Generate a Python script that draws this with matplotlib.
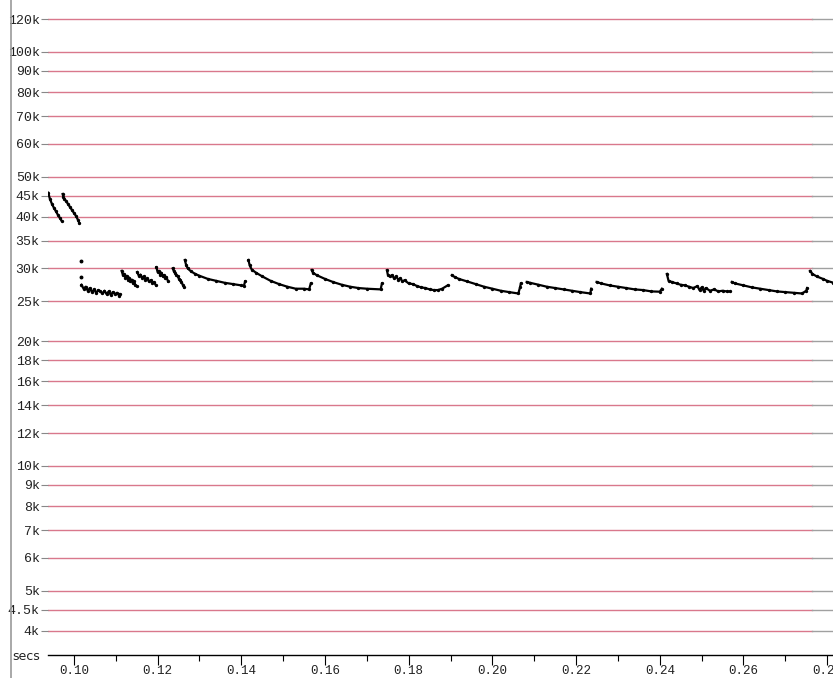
import numpy as np
import matplotlib.pyplot as plt
from matplotlib.ticker import FixedLocator, NullLocator, FuncFormatter
from matplotlib.lines import Line2D

# frequency track, one list of (secs, Hz) per segment
seg_a = [(0.09386, 45700), (0.09426, 44150), (0.09474, 42950), (0.09522, 42000),
         (0.09570, 41200), (0.09617, 40400), (0.09665, 39700), (0.09706, 39070)]
seg_b = [(0.09730, 45400), (0.09749, 44600), (0.09773, 44150), (0.09809, 43660),
         (0.09857, 42950), (0.09904, 42230), (0.09952, 41530), (0.10000, 40840),
         (0.10048, 40170), (0.10096, 39290), (0.10127, 38640)]
lone_dots = [(0.10160, 31300), (0.10170, 28600)]
seg_c1 = [(0.1018, 27400), (0.1023, 26800), (0.1028, 27100), (0.1033, 26500),
          (0.1038, 26900), (0.1043, 26300), (0.1048, 26700), (0.1053, 26200),
          (0.1058, 26600), (0.1063, 26400), (0.1068, 26100), (0.1073, 26500),
          (0.1078, 26000), (0.1083, 26400), (0.1088, 25900), (0.1093, 26300),
          (0.1098, 26000), (0.1103, 26200), (0.1108, 25800), (0.1110, 26000)]
seg_c2 = [(0.1114, 29600), (0.1117, 28900), (0.1120, 29100), (0.1123, 28500),
          (0.1126, 28800), (0.1129, 28200), (0.1132, 28500), (0.1135, 27900),
          (0.1138, 28200), (0.1141, 27600), (0.1144, 27900), (0.1147, 27300),
          (0.1150, 27200)]
seg_c3 = [(0.1151, 29400), (0.1155, 28800), (0.1159, 29000), (0.1163, 28500),
          (0.1167, 28700), (0.1171, 28200), (0.1175, 28400), (0.1179, 27900),
          (0.1183, 28100), (0.1187, 27700), (0.1191, 27800), (0.1196, 27300)]
seg_c4 = [(0.1197, 30200), (0.1200, 29400), (0.1203, 29600), (0.1206, 29000),
          (0.1209, 29300), (0.1212, 28700), (0.1215, 28900), (0.1218, 28400),
          (0.1221, 28600), (0.1225, 27900)]
seg_c5 = [(0.1236, 30000), (0.1239, 29500), (0.1242, 29200), (0.1245, 28900),
          (0.1248, 28700), (0.1251, 28300), (0.1254, 28100), (0.1257, 27800),
          (0.1260, 27400), (0.1263, 27000)]
seg_6 = [(0.1265, 31450), (0.1268, 30600), (0.1272, 30000), (0.1280, 29500),
         (0.1290, 29100), (0.1300, 28800), (0.1320, 28300), (0.1340, 28000),
         (0.1360, 27700), (0.1380, 27500), (0.1400, 27300), (0.1406, 27200),
         (0.1409, 27900)]
seg_7 = [(0.1417, 31450), (0.1420, 30500), (0.1425, 29800), (0.1435, 29300),
         (0.1450, 28700), (0.1470, 28000), (0.1490, 27500), (0.1510, 27100),
         (0.1530, 26800), (0.1550, 26800), (0.1562, 26700), (0.1566, 27600)]
seg_8 = [(0.1568, 29740), (0.1571, 29300), (0.1580, 28900), (0.1600, 28300),
         (0.1620, 27800), (0.1640, 27400), (0.1660, 27100), (0.1680, 26900),
         (0.1700, 26800), (0.1733, 26700), (0.1736, 27600)]
seg_9 = [(0.1748, 29700), (0.1750, 29000), (0.1755, 28700), (0.1760, 28900),
         (0.1765, 28400), (0.1770, 28700), (0.1775, 28200), (0.1780, 28400),
         (0.1785, 27900), (0.1790, 28100), (0.1800, 27600), (0.1810, 27500),
         (0.1820, 27200), (0.1830, 27000), (0.1840, 26900), (0.1850, 26700),
         (0.1860, 26600), (0.1870, 26600), (0.1880, 26800), (0.1893, 27300)]
seg_10 = [(0.1903, 28900), (0.1910, 28600), (0.1920, 28300), (0.1940, 27900),
          (0.1960, 27500), (0.1980, 27100), (0.2000, 26800), (0.2020, 26500),
          (0.2040, 26300), (0.2062, 26100), (0.2066, 27000), (0.2068, 27600)]
seg_11 = [(0.2082, 27830), (0.2090, 27700), (0.2110, 27400), (0.2130, 27100),
          (0.2150, 26900), (0.2170, 26700), (0.2190, 26500), (0.2210, 26300),
          (0.2234, 26100), (0.2236, 26800)]
seg_12 = [(0.2249, 27830), (0.2260, 27600), (0.2280, 27300), (0.2300, 27100),
          (0.2320, 26900), (0.2340, 26700), (0.2360, 26600), (0.2380, 26400),
          (0.2400, 26360), (0.2405, 26800)]
seg_13 = [(0.2417, 29100), (0.2421, 28000), (0.2430, 27800), (0.2440, 27600),
          (0.2450, 27400), (0.2460, 27300), (0.2470, 27100), (0.2480, 26900),
          (0.2490, 27200), (0.2495, 26600), (0.2500, 27000), (0.2505, 26500),
          (0.2510, 26900), (0.2520, 26500), (0.2530, 26700), (0.2540, 26400),
          (0.2550, 26500), (0.2560, 26400), (0.2568, 26400)]
seg_14 = [(0.2572, 27830), (0.2580, 27600), (0.2600, 27300), (0.2620, 27000),
          (0.2640, 26800), (0.2660, 26600), (0.2680, 26400), (0.2700, 26300),
          (0.2720, 26200), (0.2740, 26100), (0.2750, 26500), (0.2752, 26900)]
seg_15 = [(0.2759, 29600), (0.2765, 29100), (0.2775, 28700), (0.2790, 28300),
          (0.2800, 28000), (0.2815, 27700)]

segments = [seg_a, seg_b, seg_c1, seg_c2, seg_c3, seg_c4, seg_c5, seg_6, seg_7,
            seg_8, seg_9, seg_10, seg_11, seg_12, seg_13, seg_14, seg_15]

y_ticks = [4000, 4500, 5000, 6000, 7000, 8000, 9000, 10000, 12000, 14000, 16000,
           18000, 20000, 25000, 30000, 35000, 40000, 45000, 50000, 60000, 70000,
           80000, 90000, 100000, 120000]
y_labels = ['4k', '4.5k', '5k', '6k', '7k', '8k', '9k', '10k', '12k', '14k', '16k',
            '18k', '20k', '25k', '30k', '35k', '40k', '45k', '50k', '60k', '70k',
            '80k', '90k', '100k', '120k']
x_major = [0.10, 0.12, 0.14, 0.16, 0.18, 0.20, 0.22, 0.24, 0.26, 0.28]
x_minor = [0.11, 0.13, 0.15, 0.17, 0.19, 0.21, 0.23, 0.25, 0.27]

W, H = 833, 678
fig = plt.figure(figsize=(W / 100, H / 100), dpi=100)
ax = fig.add_axes([48 / W, 23 / H, 785 / W, 655 / H])

ax.set_yscale('log')
ax.set_ylim(3495, 133500)
ax.set_xlim(0.0938, 0.2814)

# red grid lines, going grey near the right edge
for yv in y_ticks:
    ax.axhline(yv, xmin=0, xmax=0.973, color='#d9788c', lw=1.0, zorder=1)
    ax.axhline(yv, xmin=0.973, xmax=1, color='#a0a0a0', lw=1.0, zorder=1)

for seg in segments:
    t = [p[0] for p in seg]
    f = [p[1] for p in seg]
    ax.plot(t, f, color='black', lw=1.6, marker='o', ms=1.4, zorder=3)
ax.plot([p[0] for p in lone_dots], [p[1] for p in lone_dots], 'o',
        color='black', ms=1.8, zorder=3)

ax.yaxis.set_major_locator(FixedLocator(y_ticks))
ax.yaxis.set_minor_locator(NullLocator())
ax.set_yticklabels(y_labels)
ax.xaxis.set_major_locator(FixedLocator(x_major))
ax.xaxis.set_minor_locator(FixedLocator(x_minor))
ax.xaxis.set_major_formatter(FuncFormatter(lambda v, p: f'{v:.2f}'))

mono = 'Liberation Mono'
ax.tick_params(axis='y', which='major', length=5, width=0.8, color='#888888',
               pad=1, labelsize=9.5, labelcolor='#222222')
ax.tick_params(axis='x', which='major', length=7, width=0.8, color='black',
               pad=0, labelsize=9, labelcolor='#222222')
ax.tick_params(axis='x', which='minor', length=4, width=0.8, color='black')
for lab in ax.get_xticklabels() + ax.get_yticklabels():
    lab.set_family(mono)

for side in ['top', 'right', 'left']:
    ax.spines[side].set_visible(False)
ax.spines['bottom'].set_color('black')
ax.spines['bottom'].set_linewidth(1.0)

# left border of the window and the 'secs' unit label
fig.add_artist(Line2D([11 / W, 11 / W], [0, 1], color='#999999', lw=1.2))
fig.text(12 / W, 1 - 656 / H, 'secs', fontsize=9, va='center', ha='left',
         color='#222222', family='DejaVu Sans')

fig.savefig('out.png', dpi=100)
